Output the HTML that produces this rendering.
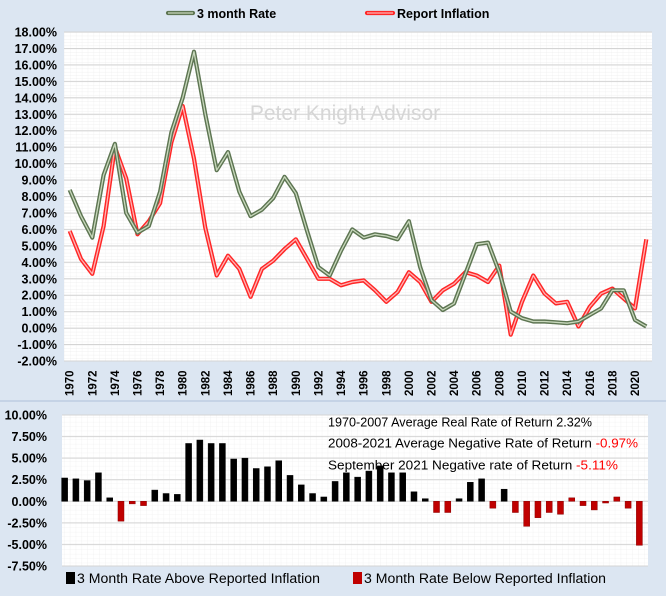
<!DOCTYPE html>
<html><head><meta charset="utf-8"><style>
body{margin:0;background:#dce6f2;}
svg{display:block;font-family:"Liberation Sans",sans-serif;}
</style></head><body>
<svg id="c" width="666" height="596" viewBox="0 0 666 596">
<defs>
<pattern id="mg" width="5.88" height="3.29" patternUnits="userSpaceOnUse"><path d="M5.88 0V3.29M0 3.29H5.88" stroke="#ececec" stroke-width="0.6" fill="none"/></pattern>
<pattern id="mg2" width="5.86" height="4.4" patternUnits="userSpaceOnUse"><path d="M5.86 0V4.4M0 4.4H5.86" stroke="#ececec" stroke-width="0.6" fill="none"/></pattern>
</defs>
<rect x="0" y="0" width="666" height="596" fill="#dce6f2"/>
<g id="topg"></g>
<line x1="0" y1="401" x2="666" y2="401" stroke="#c5d3e6" stroke-width="2"/>
<g id="botg"></g>
</svg>
<script>
const years=[];for(let y=1970;y<=2021;y++)years.push(y);
const rate3m=[8.4,6.8,5.5,9.3,11.2,7.0,5.8,6.2,8.3,11.9,14.0,16.8,13.0,9.6,10.7,8.3,6.8,7.2,7.9,9.2,8.2,5.9,3.7,3.2,4.7,6.0,5.5,5.7,5.6,5.4,6.5,3.7,1.7,1.1,1.5,3.3,5.1,5.2,3.4,1.0,0.6,0.4,0.4,0.35,0.3,0.4,0.8,1.2,2.3,2.3,0.5,0.1];
const inflation=[5.9,4.2,3.3,6.2,11.0,9.1,5.7,6.5,7.6,11.3,13.5,10.3,6.1,3.2,4.4,3.6,1.9,3.6,4.1,4.8,5.4,4.2,3.0,3.0,2.6,2.8,2.9,2.3,1.6,2.2,3.4,2.8,1.6,2.3,2.7,3.4,3.2,2.8,3.8,-0.4,1.6,3.2,2.1,1.5,1.6,0.1,1.3,2.1,2.4,1.8,1.2,5.4];
const realRate=[2.7,2.6,2.4,3.3,0.4,-2.3,-0.3,-0.5,1.3,0.9,0.8,6.7,7.1,6.7,6.7,4.9,5.0,3.8,4.0,4.7,3.0,1.9,0.9,0.5,2.3,3.3,2.8,3.5,4.1,3.3,3.3,1.1,0.3,-1.3,-1.3,0.3,2.2,2.6,-0.8,1.4,-1.3,-2.9,-1.9,-1.3,-1.5,0.4,-0.5,-1.0,-0.2,0.5,-0.8,-5.1];
const topTicks=[18,17,16,15,14,13,12,11,10,9,8,7,6,5,4,3,2,1,0,-1,-2];
const botTicks=[10,7.5,5,2.5,0,-2.5,-5,-7.5];
const NS='http://www.w3.org/2000/svg';
function mk(p,t,a,txt){const e=document.createElementNS(NS,t);for(const k in a)e.setAttribute(k,a[k]);if(txt!=null)e.textContent=txt;p.appendChild(e);return e;}
const topG=document.getElementById('topg'),botG=document.getElementById('botg');
const TL=64,TR=652,TT=32,TB=361;
const ty=v=>TT+(18-v)*(TB-TT)/20;
const tx=i=>TL+(i+0.5)*(TR-TL)/years.length;
let r=mk(topG,'rect',{x:TL,y:TT,width:TR-TL,height:TB-TT,fill:'#fff'});


mk(topG,'rect',{x:TL,y:TT,width:TR-TL,height:TB-TT,fill:'url(#mg)'});
topTicks.forEach(v=>{
 const g=mk(topG,'line',{x1:TL,x2:TR,y1:ty(v),y2:ty(v),stroke:'#d4d4d4','stroke-width':1});
 
 
 const t=mk(topG,'text',{x:57,y:ty(v)+4.5,'text-anchor':'end','font-size':'12.5','font-weight':'bold',fill:'#000'},v.toFixed(2)+'%');
 
 
});
years.forEach((y,i)=>{if(i%2)return;
 const t=mk(topG,'text',{transform:`translate(${tx(i)+4},396) rotate(-90)`,'font-size':'11.5','font-weight':'bold',fill:'#000'},String(y));
 
 
});
let w=mk(topG,'text',{x:345,y:120,'text-anchor':'middle','font-size':'21',fill:'#d6d6d6'},'Peter Knight Advisor');


function line(arr,outer,inner,name){
 const d=arr.map((v,i)=>(i?'L':'M')+tx(i).toFixed(1)+' '+ty(v).toFixed(1)).join('');
 const a=mk(topG,'path',{d,fill:'none',stroke:outer,'stroke-width':4.2,'stroke-linejoin':'round'});
 
 
 mk(topG,'path',{d,fill:'none',stroke:inner,'stroke-width':1.3,'stroke-linejoin':'round'});
}
line(inflation,'#ff2626','#ffb3b3','inflation-line');
line(rate3m,'#5d7552','#c8d8bc','rate-3m-line');
mk(topG,'line',{x1:168,x2:193,y1:13,y2:13,stroke:'#5d7552','stroke-width':4.2,'stroke-linecap':'round'});
mk(topG,'line',{x1:168,x2:193,y1:13,y2:13,stroke:'#c8d8bc','stroke-width':1.3});
let l=mk(topG,'text',{x:197,y:18,'font-size':'12.5','font-weight':'bold'},'3 month Rate');


mk(topG,'line',{x1:367,x2:393,y1:13,y2:13,stroke:'#ff2626','stroke-width':4.2,'stroke-linecap':'round'});
mk(topG,'line',{x1:367,x2:393,y1:13,y2:13,stroke:'#ffb3b3','stroke-width':1.3});
l=mk(topG,'text',{x:397,y:18,'font-size':'12.5','font-weight':'bold'},'Report Inflation');


const BL=62,BR=648,BT=415,BB=566;
const by=v=>BT+(10-v)*(BB-BT)/17.5;
const bx=i=>BL+(i+0.5)*(BR-BL)/years.length-3;
r=mk(botG,'rect',{x:BL,y:BT,width:BR-BL,height:BB-BT,fill:'#fff'});


mk(botG,'rect',{x:BL,y:BT,width:BR-BL,height:BB-BT,fill:'url(#mg2)'});
botTicks.forEach(v=>{
 const g=mk(botG,'line',{x1:BL,x2:BR,y1:by(v),y2:by(v),stroke:'#d4d4d4','stroke-width':1});
 
 
 const t=mk(botG,'text',{x:47,y:by(v)+4.5,'text-anchor':'end','font-size':'12.5','font-weight':'bold',fill:'#000'},v.toFixed(2)+'%');
 
 
});
realRate.forEach((v,i)=>{
 const red=v<0||years[i]>=2010;
 const y0=by(0),y1=by(v);
 const b=mk(botG,'rect',{x:bx(i)-3,y:Math.min(y0,y1),width:6,height:Math.max(1,Math.abs(y1-y0)),fill:red?'#c00000':'#000',stroke:red?'#8a0000':'#000','stroke-width':0.5});
 
 
});
const ann=[['1970-2007 Average Real Rate of Return 2.32%','',422,264],['2008-2021 Average Negative Rate of Return ','-0.97%',443,310],['September 2021 Negative rate of Return ','-5.11%',465,290]];
ann.forEach(a=>{
 const t=mk(botG,'text',{x:328,y:a[2]+4.5,'font-size':'12.5',textLength:a[3],lengthAdjust:'spacingAndGlyphs'});
 
 
 mk(t,'tspan',{},a[0]);if(a[1])mk(t,'tspan',{fill:'#ff0000'},a[1]);
});
mk(botG,'rect',{x:66,y:572,width:9,height:12,fill:'#000'});
l=mk(botG,'text',{x:77,y:583,'font-size':'13.5',textLength:243,lengthAdjust:'spacingAndGlyphs'},'3 Month Rate Above Reported Inflation');


mk(botG,'rect',{x:353,y:572,width:9,height:12,fill:'#c00000'});
l=mk(botG,'text',{x:364,y:583,'font-size':'13.5',textLength:242,lengthAdjust:'spacingAndGlyphs'},'3 Month Rate Below Reported Inflation');


</script>
</body></html>
